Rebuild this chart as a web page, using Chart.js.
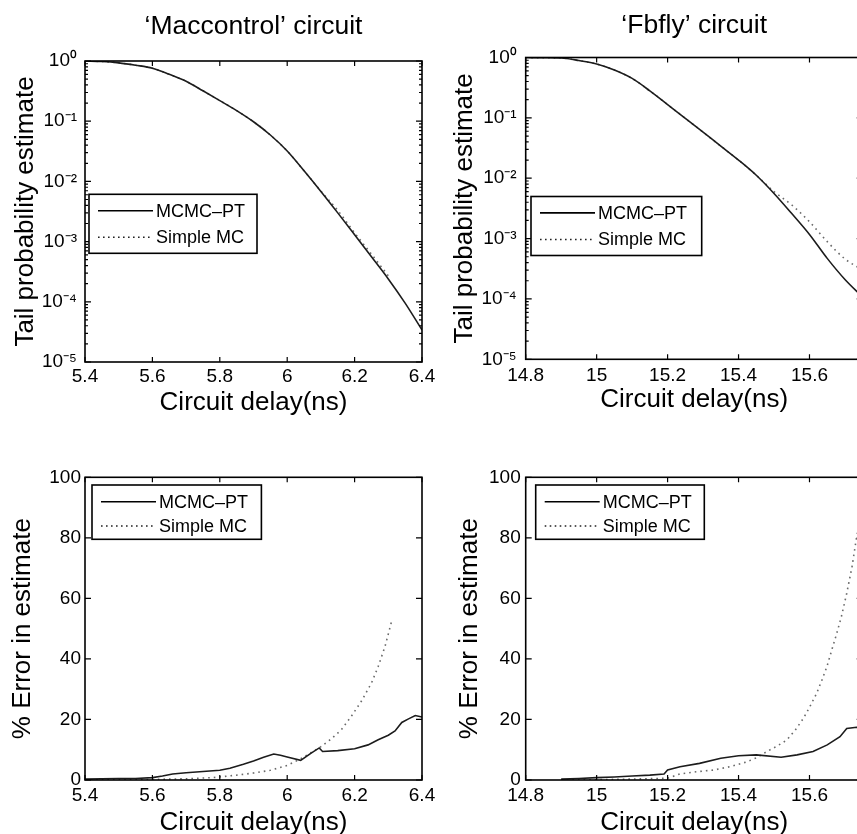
<!DOCTYPE html>
<html>
<head>
<meta charset="utf-8">
<script src="https://cdn.jsdelivr.net/npm/chart.js@4/dist/chart.umd.min.js"></script>
<style>
html, body { margin: 0; padding: 0; background: #fff; width: 857px; height: 834px; overflow: hidden; position: relative; }
canvas.c { position: absolute; }
</style>
</head>
<body>
<canvas id="tl" class="c" width="445" height="440" style="left:0px;top:0px"></canvas>
<canvas id="tr" class="c" width="440" height="440" style="left:430px;top:0px"></canvas>
<canvas id="bl" class="c" width="445" height="440" style="left:0px;top:420px"></canvas>
<canvas id="br" class="c" width="440" height="440" style="left:430px;top:420px"></canvas>
<script>
// ---------------- DATA ----------------
const seriesNames = ['MCMC\u2013PT', 'Simple MC'];

// 'Maccontrol' tail probability
const macTailX = [5.40,5.45,5.50,5.55,5.60,5.65,5.70,5.75,5.80,5.85,5.90,5.95,6.00,6.05,6.10,6.15,6.20,6.25,6.30,6.35,6.40];
const macTailPT = [1.0,0.98,0.93,0.85,0.76,0.60,0.46,0.32,0.22,0.15,0.098,0.059,0.032,0.015,6.8e-3,3.0e-3,1.3e-3,5.6e-4,2.4e-4,9.5e-5,3.4e-5];
const macTailMCX = [5.40,5.45,5.50,5.55,5.60,5.65,5.70,5.75,5.80,5.85,5.90,5.95,6.00,6.05,6.10,6.15,6.20,6.25,6.30];
const macTailMC = [1.0,0.98,0.93,0.85,0.76,0.60,0.46,0.32,0.22,0.15,0.098,0.059,0.032,0.015,6.9e-3,3.3e-3,1.4e-3,6.2e-4,2.7e-4];

// 'Fbfly' tail probability
const fbTailX = [14.80,14.85,14.90,14.95,15.00,15.05,15.10,15.15,15.20,15.25,15.30,15.35,15.40,15.45,15.50,15.55,15.60,15.65,15.70,15.75];
const fbTailPT = [1.0,0.99,0.98,0.89,0.78,0.62,0.45,0.28,0.166,0.098,0.058,0.034,0.020,0.0112,5.6e-3,2.6e-3,1.17e-3,4.7e-4,2.1e-4,1.07e-4];
const fbTailMC = [1.0,0.99,0.98,0.89,0.78,0.62,0.45,0.28,0.166,0.098,0.058,0.034,0.020,0.0112,6.0e-3,3.6e-3,1.9e-3,8.9e-4,4.6e-4,3.0e-4];

// 'Maccontrol' % error
const macErrPTX = [5.40,5.45,5.50,5.55,5.60,5.63,5.66,5.70,5.75,5.80,5.83,5.87,5.90,5.93,5.96,5.98,6.00,6.04,6.07,6.095,6.105,6.15,6.20,6.24,6.27,6.30,6.32,6.34,6.36,6.38,6.40];
const macErrPT = [0.3,0.4,0.5,0.5,0.8,1.3,2.0,2.4,2.8,3.2,3.9,5.2,6.3,7.5,8.6,8.2,7.6,6.5,8.8,10.6,9.4,9.7,10.3,11.6,13.3,14.8,16.2,19.0,20.2,21.3,20.8];
const macErrMCX = [5.40,5.50,5.60,5.70,5.78,5.85,5.90,5.95,6.00,6.04,6.07,6.10,6.13,6.16,6.19,6.22,6.25,6.27,6.29,6.31];
const macErrMC = [0,0.1,0.2,0.4,0.8,1.6,2.3,3.2,4.8,7.0,9.0,11.0,13.5,16.5,21,26,32,37.5,44,52.5];

// 'Fbfly' % error
const fbErrPTX = [14.90,14.95,15.00,15.05,15.10,15.15,15.19,15.20,15.235,15.29,15.35,15.40,15.45,15.52,15.565,15.61,15.65,15.686,15.705,15.733,15.75];
const fbErrPT = [0.3,0.5,0.8,1.0,1.3,1.6,2.0,3.3,4.4,5.5,7.2,8.0,8.3,7.5,8.3,9.4,11.6,14.3,17.0,17.4,17.3];
const fbErrMCX = [14.90,15.00,15.10,15.20,15.235,15.28,15.33,15.38,15.423,15.45,15.48,15.51,15.536,15.56,15.583,15.60,15.62,15.635,15.649,15.663,15.677,15.69,15.705,15.72,15.733,15.745];
const fbErrMC = [0,0.1,0.3,0.6,2.0,2.7,3.3,4.5,6.0,7.3,9.4,11.3,13.2,16.5,20.4,24,28.6,33,37.4,43,48.5,54,61.7,70.5,80.4,87];

// ticks
const macXTicks = [5.4,5.6,5.8,6,6.2,6.4];
const macXLabels = ['5.4','5.6','5.8','6','6.2','6.4'];
const fbXTicks = [14.8,15,15.2,15.4,15.6];
const fbXLabels = ['14.8','15','15.2','15.4','15.6'];
const logYTicks = [1e-5,1e-4,1e-3,1e-2,1e-1,1];
const logYLabels = ['10\u207B\u2075','10\u207B\u2074','10\u207B\u00B3','10\u207B\u00B2','10\u207B\u00B9','10\u2070'];
const errYTicks = [0,20,40,60,80,100];
const errYLabels = ['0','20','40','60','80','100'];

const titles = ['\u2018Maccontrol\u2019 circuit', '\u2018Fbfly\u2019 circuit'];
const xTitle = 'Circuit delay(ns)';
const yTitleTail = 'Tail probability estimate';
const yTitleErr = '% Error in estimate';

// ---------------- STYLE ----------------
const FONT = '"Liberation Sans", Arial, Helvetica, sans-serif';
Chart.defaults.font.family = FONT;
Chart.defaults.color = '#000';

const solidStyle = { borderColor: '#1c1c1c', borderWidth: 1.6, legendColor: '#000', legendDash: [] };
const dotStyle = { borderColor: '#6a6a6a', borderWidth: 1.6, borderDash: [1.6, 4], legendColor: '#222', legendDash: [1.6, 3.4] };

function pts(xs, ys) { return xs.map((x, i) => ({ x: x, y: ys[i] })); }

const axesPlugin = {
  id: 'matlabAxes',
  afterDatasetsDraw(chart) {
    const { ctx, chartArea: a, scales: { x, y } } = chart;
    ctx.save();
    ctx.strokeStyle = '#000';
    ctx.lineWidth = 1.2;
    ctx.beginPath();
    x.ticks.forEach(t => {
      const px = x.getPixelForValue(t.value);
      ctx.moveTo(px, a.bottom); ctx.lineTo(px, a.bottom - 5);
      ctx.moveTo(px, a.top); ctx.lineTo(px, a.top + 5);
    });
    y.ticks.forEach(t => {
      const py = y.getPixelForValue(t.value);
      ctx.moveTo(a.left, py); ctx.lineTo(a.left + 6, py);
      ctx.moveTo(a.right, py); ctx.lineTo(a.right - 6, py);
    });
    if (y.type === 'logarithmic') {
      for (let e = -5; e < 0; e++) {
        for (let k = 2; k <= 9; k++) {
          const py = y.getPixelForValue(k * Math.pow(10, e));
          ctx.moveTo(a.left, py); ctx.lineTo(a.left + 3, py);
          ctx.moveTo(a.right, py); ctx.lineTo(a.right - 3, py);
        }
      }
    }
    ctx.stroke();
    ctx.lineWidth = 1.6;
    ctx.strokeRect(a.left, a.top, a.right - a.left, a.bottom - a.top);
    ctx.restore();
  }
};

const legendPlugin = {
  id: 'boxLegend',
  afterDraw(chart, args, o) {
    const { ctx, chartArea: a } = chart;
    const x = a.left + o.dx, y = a.top + o.dy;
    ctx.save();
    ctx.fillStyle = '#fff';
    ctx.fillRect(x, y, o.w, o.h);
    ctx.lineWidth = 1.6;
    ctx.strokeStyle = '#000';
    ctx.strokeRect(x, y, o.w, o.h);
    ctx.font = '18px ' + FONT;
    ctx.textBaseline = 'middle';
    ctx.textAlign = 'left';
    chart.data.datasets.forEach((ds, i) => {
      const ry = y + o.rows[i];
      ctx.beginPath();
      ctx.setLineDash(ds.legendDash);
      ctx.strokeStyle = ds.legendColor;
      ctx.lineWidth = 1.6;
      ctx.moveTo(x + 9, ry); ctx.lineTo(x + 64, ry);
      ctx.stroke();
      ctx.setLineDash([]);
      ctx.fillStyle = '#000';
      ctx.fillText(ds.label, x + 67, ry + 1);
    });
    ctx.restore();
  }
};

function buildChart(id, p) {
  return new Chart(document.getElementById(id), {
    type: 'line',
    data: { datasets: p.datasets },
    options: {
      responsive: false,
      animation: false,
      events: [],
      layout: { padding: { left: 0, right: p.padRight, top: p.padTop, bottom: 0 } },
      elements: { point: { radius: 0 }, line: { tension: 0, cubicInterpolationMode: p.smooth ? 'monotone' : 'default' } },
      plugins: {
        legend: { display: false },
        tooltip: { enabled: false },
        title: p.title ? {
          display: true, text: p.title, fullSize: false, color: '#000',
          font: { size: 26.5, weight: 'normal', family: FONT },
          padding: { top: p.titleTop, bottom: p.titleBottom }
        } : { display: false },
        boxLegend: p.legend
      },
      scales: {
        x: {
          type: 'linear', min: p.xMin, max: p.xMax,
          afterBuildTicks: s => { s.ticks = p.xTicks.map(v => ({ value: v })); },
          afterFit: s => { s.height = p.xHeight; s.paddingLeft = 0; s.paddingRight = 0; },
          grid: { display: false, drawTicks: false },
          border: { display: false },
          ticks: { font: { size: 19 }, padding: p.xTickPad, color: '#000', maxRotation: 0, autoSkip: false,
                   callback: (v, i) => p.xLabels[i] },
          title: { display: true, text: xTitle, color: '#000', font: { size: 26 }, padding: { top: 0, bottom: p.xTitlePad } }
        },
        y: {
          type: p.yType, min: p.yMin, max: p.yMax,
          afterBuildTicks: s => { s.ticks = p.yTicks.map(v => ({ value: v })); },
          afterFit: s => { s.width = p.yWidth; s.paddingTop = 0; s.paddingBottom = 0; },
          grid: { display: false, drawTicks: false },
          border: { display: false },
          ticks: { font: { size: 19 }, padding: p.yTickPad, color: '#000', autoSkip: false,
                   callback: (v, i) => p.yLabels[i] },
          title: { display: true, text: p.yTitle, color: '#000', font: { size: 26 }, padding: { top: p.yTitlePad, bottom: 0 } }
        }
      }
    },
    plugins: [axesPlugin, legendPlugin]
  });
}

buildChart('tl', {
  datasets: [
    Object.assign({ label: seriesNames[0], data: pts(macTailX, macTailPT) }, solidStyle),
    Object.assign({ label: seriesNames[1], data: pts(macTailMCX, macTailMC) }, dotStyle)
  ],
  smooth: true,
  title: titles[0], titleTop: 11, titleBottom: 18.2, padTop: 0, padRight: 23,
  xMin: 5.4, xMax: 6.4, xTicks: macXTicks, xLabels: macXLabels, xHeight: 78, xTickPad: 3.5, xTitlePad: 21.5,
  yType: 'logarithmic', yMin: 1e-5, yMax: 1, yTicks: logYTicks, yLabels: logYLabels, yWidth: 85, yTickPad: 8,
  yTitle: yTitleTail, yTitlePad: 9.8,
  legend: { dx: 4, dy: 133.3, w: 168, h: 59, rows: [16.4, 43] }
});

buildChart('tr', {
  datasets: [
    Object.assign({ label: seriesNames[0], data: pts(fbTailX, fbTailPT) }, solidStyle),
    Object.assign({ label: seriesNames[1], data: pts(fbTailX, fbTailMC) }, dotStyle)
  ],
  smooth: true,
  title: titles[1], titleTop: 9.5, titleBottom: 16.2, padTop: 0, padRight: 7.3,
  xMin: 14.8, xMax: 15.75, xTicks: fbXTicks, xLabels: fbXLabels, xHeight: 80.7, xTickPad: 5.3, xTitlePad: 25,
  yType: 'logarithmic', yMin: 1e-5, yMax: 1, yTicks: logYTicks, yLabels: logYLabels, yWidth: 95.7, yTickPad: 9,
  yTitle: yTitleTail, yTitlePad: 19.4,
  legend: { dx: 5.3, dy: 139, w: 170.7, h: 59, rows: [16.4, 43] }
});

buildChart('bl', {
  datasets: [
    Object.assign({ label: seriesNames[0], data: pts(macErrPTX, macErrPT) }, solidStyle),
    Object.assign({ label: seriesNames[1], data: pts(macErrMCX, macErrMC) }, dotStyle)
  ],
  smooth: false,
  title: null, padTop: 57.3, padRight: 23,
  xMin: 5.4, xMax: 6.4, xTicks: macXTicks, xLabels: macXLabels, xHeight: 80, xTickPad: 4.6, xTitlePad: 21.5,
  yType: 'linear', yMin: 0, yMax: 100, yTicks: errYTicks, yLabels: errYLabels, yWidth: 85, yTickPad: 4,
  yTitle: yTitleErr, yTitlePad: 7.4,
  legend: { dx: 7, dy: 7.7, w: 169.4, h: 54.3, rows: [16.7, 41] }
});

buildChart('br', {
  datasets: [
    Object.assign({ label: seriesNames[0], data: pts(fbErrPTX, fbErrPT) }, solidStyle),
    Object.assign({ label: seriesNames[1], data: pts(fbErrMCX, fbErrMC) }, dotStyle)
  ],
  smooth: false,
  title: null, padTop: 57.3, padRight: 7.3,
  xMin: 14.8, xMax: 15.75, xTicks: fbXTicks, xLabels: fbXLabels, xHeight: 80, xTickPad: 4.6, xTitlePad: 21.5,
  yType: 'linear', yMin: 0, yMax: 100, yTicks: errYTicks, yLabels: errYLabels, yWidth: 95.7, yTickPad: 5,
  yTitle: yTitleErr, yTitlePad: 24.4,
  legend: { dx: 10, dy: 7.7, w: 168.6, h: 54.3, rows: [16.7, 41] }
});
</script>
</body>
</html>
